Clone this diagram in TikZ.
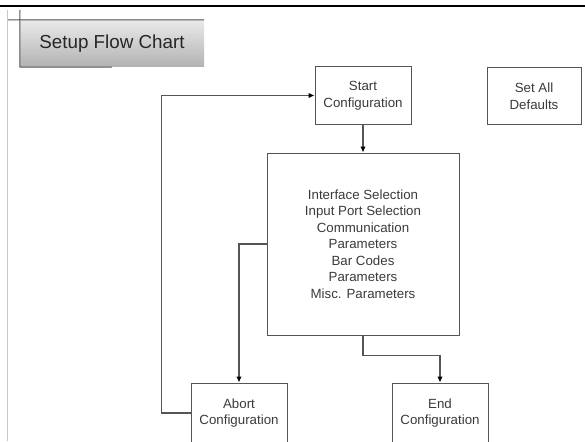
\documentclass[tikz,border=0pt]{standalone}
\usepackage{fontspec}
\setmainfont{Liberation Sans}
\usetikzlibrary{arrows.meta}
\definecolor{SFLine}{HTML}{555555}
\definecolor{SFText}{HTML}{3A3A3A}
\definecolor{SFTop}{HTML}{EAEAEA}
\definecolor{SFBottom}{HTML}{B2B2B2}
\definecolor{SFFrame}{HTML}{C8C8C8}
\tikzset{
  stepbox/.style={draw=SFLine,line width=1pt,align=center,text=SFText,
    font=\fontsize{13.3}{16.5}\selectfont,inner sep=0pt},
  flow/.style={draw=SFLine,line width=1.1pt,-{Latex[length=6pt,width=5.5pt,color=black]}}
}
\begin{document}
\begin{tikzpicture}[x=1pt,y=-1pt]
\path[use as bounding box] (0,0) rectangle (585,441);
\clip (0,0) rectangle (585,441);
% page frame
\draw[black,line width=1.3pt] (0,6) -- (585,6);
\draw[SFFrame,line width=0.8pt] (7,10) -- (7,441);
% title tab
\node[top color=SFTop,bottom color=SFBottom,minimum width=184pt,minimum height=47pt,
  inner sep=0pt,text=black!85,font=\fontsize{18.8}{22}\selectfont] (title) at (112,43.5) {Setup Flow Chart};
\draw[SFLine,line width=1pt] (8,20) -- (title.north east);
\draw[SFLine,line width=1pt] (20,10) -- (title.south west) -- (112,67);
% boxes
\node[stepbox,minimum width=96pt,minimum height=57pt] (start) at (363,95.5) {Start\\Configuration};
\node[stepbox,minimum width=94pt,minimum height=56pt] (defaults) at (534,96) {Set All\\Defaults};
\node[stepbox,minimum width=192pt,minimum height=182pt] (params) at (363,244)
  {Interface Selection\\Input Port Selection\\Communication\\Parameters\\Bar Codes\\Parameters\\Misc. Parameters};
\node[stepbox,minimum width=96pt,minimum height=60pt] (abort) at (239,413) {Abort\\Configuration};
\node[stepbox,minimum width=96pt,minimum height=60pt] (finish) at (440,413) {End\\Configuration};
% connectors
\draw[flow] (start) -- (params);
\draw[flow] (params.west) -| (abort.north);
\draw[flow] (params.south) -- ++(0,20) -| (finish.north);
\draw[flow] (abort.west) -- ++(-29,0) |- (start.west);
\end{tikzpicture}
\end{document}
